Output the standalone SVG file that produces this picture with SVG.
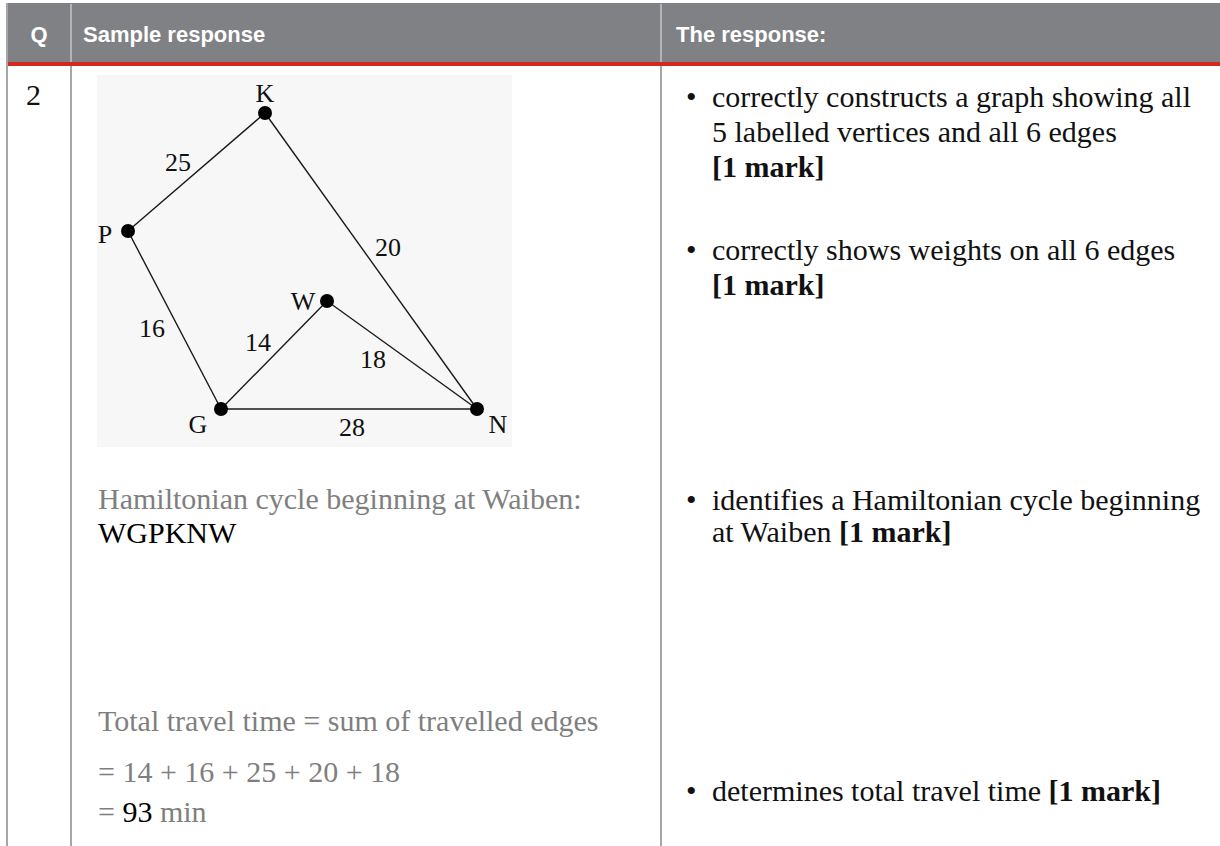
<svg xmlns="http://www.w3.org/2000/svg" width="1220" height="846" viewBox="0 0 1220 846">
<style>
.hdr{font-family:"Liberation Sans",Arial,sans-serif;font-weight:bold;font-size:22px;fill:#ffffff}
.body{font-family:"Liberation Serif","Times New Roman",serif;font-size:30px;fill:#111111}
.gray{fill:#7f7f7f}
.blk{fill:#000000}
.b{font-weight:bold}
.lbl{font-family:"Liberation Serif","Times New Roman",serif;font-size:26px;fill:#111111}
.edge{stroke:#1a1a1a;stroke-width:1.4;fill:none}
.rule{stroke:#a6a6a9;stroke-width:2}
.hrule{stroke:#b4b4b7;stroke-width:2}
</style>
<rect width="1220" height="846" fill="#ffffff"/>
<g id="table">
  <rect x="7" y="3" width="1213" height="59" fill="#808185"/>
  <rect x="7" y="62" width="1213" height="4" fill="#d3291f"/>
  <line class="hrule" x1="71" y1="4" x2="71" y2="62"/>
  <line class="hrule" x1="661" y1="4" x2="661" y2="62"/>
  <line class="rule" x1="7" y1="3" x2="7" y2="846"/>
  <line class="rule" x1="71" y1="66" x2="71" y2="846"/>
  <line class="rule" x1="661" y1="66" x2="661" y2="846"/>
  <text class="hdr" x="39" y="42" text-anchor="middle">Q</text>
  <text class="hdr" x="83" y="42">Sample response</text>
  <text class="hdr" x="676" y="42">The response:</text>
  <text class="body" x="26" y="105">2</text>
</g>
<g id="graph">
  <rect x="97" y="75" width="415" height="372" fill="#f7f7f7"/>
  <g id="connectors">
    <line class="edge" x1="265" y1="113" x2="128" y2="231"/>
    <line class="edge" x1="265" y1="113" x2="477" y2="409"/>
    <line class="edge" x1="128" y1="231" x2="221" y2="409"/>
    <line class="edge" x1="221" y1="409" x2="327" y2="301"/>
    <line class="edge" x1="327" y1="301" x2="477" y2="409"/>
    <line class="edge" x1="221" y1="409" x2="477" y2="409"/>
  </g>
  <g id="node-K"><circle cx="265" cy="113" r="7" fill="#000"/><text class="lbl" x="265" y="102" text-anchor="middle">K</text></g>
  <g id="node-P"><circle cx="128" cy="231" r="7" fill="#000"/><text class="lbl" x="105" y="243" text-anchor="middle">P</text></g>
  <g id="node-W"><circle cx="327" cy="301" r="7" fill="#000"/><text class="lbl" x="303" y="310" text-anchor="middle">W</text></g>
  <g id="node-G"><circle cx="221" cy="409" r="7" fill="#000"/><text class="lbl" x="198" y="433" text-anchor="middle">G</text></g>
  <g id="node-N"><circle cx="477" cy="409" r="7" fill="#000"/><text class="lbl" x="498" y="433" text-anchor="middle">N</text></g>
  <g id="weights">
    <text class="lbl" x="178" y="171" text-anchor="middle">25</text>
    <text class="lbl" x="388" y="256" text-anchor="middle">20</text>
    <text class="lbl" x="152" y="337" text-anchor="middle">16</text>
    <text class="lbl" x="258" y="351" text-anchor="middle">14</text>
    <text class="lbl" x="373" y="368" text-anchor="middle">18</text>
    <text class="lbl" x="352" y="436" text-anchor="middle">28</text>
  </g>
</g>
<g id="sample">
  <text class="body gray" x="98" y="509">Hamiltonian cycle beginning at Waiben:</text>
  <text class="body blk" x="98" y="543">WGPKNW</text>
  <text class="body gray" x="98" y="731">Total travel time = sum of travelled edges</text>
  <text class="body gray" x="98" y="782">= 14 + 16 + 25 + 20 + 18</text>
  <text class="body gray" x="98" y="822">= <tspan class="blk">93</tspan> min</text>
</g>
<g id="criteria">
  <text class="body" x="686" y="107">•</text>
  <text class="body" x="712" y="107">correctly constructs a graph showing all</text>
  <text class="body" x="712" y="142">5 labelled vertices and all 6 edges</text>
  <text class="body b" x="712" y="177">[1 mark]</text>
  <text class="body" x="686" y="260">•</text>
  <text class="body" x="712" y="260">correctly shows weights on all 6 edges</text>
  <text class="body b" x="712" y="295">[1 mark]</text>
  <text class="body" x="686" y="510">•</text>
  <text class="body" x="712" y="510">identifies a Hamiltonian cycle beginning</text>
  <text class="body" x="712" y="542">at Waiben <tspan class="b">[1 mark]</tspan></text>
  <text class="body" x="686" y="801">•</text>
  <text class="body" x="712" y="801">determines total travel time <tspan class="b">[1 mark]</tspan></text>
</g>
</svg>
